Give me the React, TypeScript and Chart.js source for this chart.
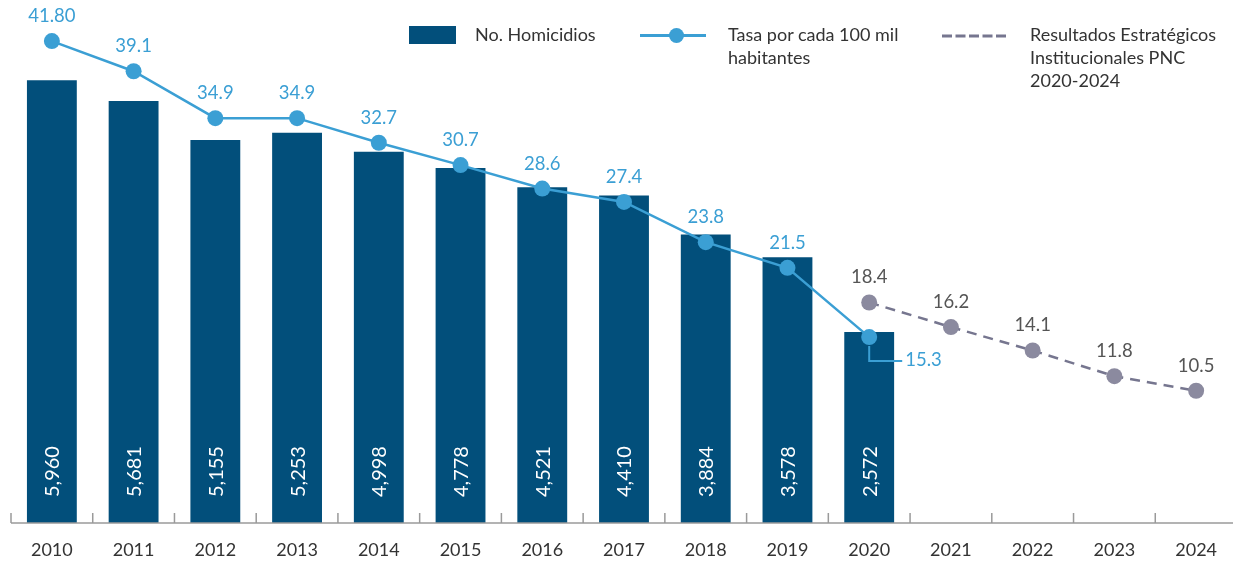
import React, { useEffect, useRef } from "react";
import { Chart, registerables } from "chart.js";

Chart.register(...registerables);

const years = ["2010","2011","2012","2013","2014","2015","2016","2017","2018","2019","2020","2021","2022","2023","2024"];
const homicides = [5960, 5681, 5155, 5253, 4998, 4778, 4521, 4410, 3884, 3578, 2572, null, null, null, null];
const homicideLabels = ["5,960","5,681","5,155","5,253","4,998","4,778","4,521","4,410","3,884","3,578","2,572"];
const rate = [41.8, 39.1, 34.9, 34.9, 32.7, 30.7, 28.6, 27.4, 23.8, 21.5, 15.3, null, null, null, null];
const rateLabels = ["41.80","39.1","34.9","34.9","32.7","30.7","28.6","27.4","23.8","21.5","15.3"];
const projection = [null, null, null, null, null, null, null, null, null, null, 18.4, 16.2, 14.1, 11.8, 10.5];
const projectionLabels = ["", "", "", "", "", "", "", "", "", "", "18.4", "16.2", "14.1", "11.8", "10.5"];
const calloutIndex = 10;

const BAR = "#024f7b";
const BLUE = "#3b9fd4";
const GRAY = "#8b8a9f";
const GRAY_LINE = "#76768f";
const TEXT = "#333333";
const FONT = "Lato, 'Noto Sans', sans-serif";

const labelPlugin = {
  id: "labels",
  afterDatasetsDraw(chart: any) {
    const ctx = chart.ctx;
    const area = chart.chartArea;
    const xs = chart.scales.x;
    // axis line and boundary ticks
    ctx.save();
    ctx.strokeStyle = "#9a9a9a";
    ctx.lineWidth = 1.5;
    ctx.beginPath();
    ctx.moveTo(area.left, area.bottom);
    ctx.lineTo(area.right, area.bottom);
    const step = xs.getPixelForValue(1) - xs.getPixelForValue(0);
    for (let i = 0; i <= years.length; i++) {
      const bx = xs.getPixelForValue(0) - step / 2 + i * step;
      ctx.moveTo(bx, area.bottom);
      ctx.lineTo(bx, area.bottom - 10);
    }
    ctx.stroke();
    ctx.restore();

    // bar labels
    const barMeta = chart.getDatasetMeta(0);
    ctx.save();
    ctx.fillStyle = "#ffffff";
    ctx.font = `20px ${FONT}`;
    ctx.textAlign = "left";
    ctx.textBaseline = "middle";
    barMeta.data.forEach((el: any, i: number) => {
      if (homicides[i] == null) return;
      ctx.save();
      ctx.translate(el.x + 1, area.bottom - 26);
      ctx.rotate(-Math.PI / 2);
      ctx.fillText(homicideLabels[i], 0, 0);
      ctx.restore();
    });
    ctx.restore();

    // rate labels
    const rateMeta = chart.getDatasetMeta(1);
    ctx.save();
    ctx.font = `18.5px ${FONT}`;
    ctx.fillStyle = BLUE;
    ctx.textBaseline = "middle";
    rateMeta.data.forEach((el: any, i: number) => {
      if (rate[i] == null) return;
      if (i === calloutIndex) {
        ctx.strokeStyle = BLUE;
        ctx.lineWidth = 2;
        ctx.beginPath();
        ctx.moveTo(el.x, el.y + 9);
        ctx.lineTo(el.x, el.y + 24);
        ctx.lineTo(el.x + 33, el.y + 24);
        ctx.stroke();
        ctx.textAlign = "left";
        ctx.fillText(rateLabels[i], el.x + 36, el.y + 23);
      } else {
        ctx.textAlign = "center";
        ctx.fillText(rateLabels[i], el.x, el.y - 25);
      }
    });
    ctx.restore();

    // projection labels
    const projMeta = chart.getDatasetMeta(2);
    ctx.save();
    ctx.font = `18.5px ${FONT}`;
    ctx.fillStyle = "#555555";
    ctx.textAlign = "center";
    ctx.textBaseline = "middle";
    projMeta.data.forEach((el: any, i: number) => {
      if (projection[i] == null) return;
      ctx.fillText(projectionLabels[i], el.x, el.y - 25);
    });
    ctx.restore();
  },
};

export default function App() {
  const ref = useRef<HTMLCanvasElement | null>(null);

  useEffect(() => {
    if (!ref.current) return;
    const chart = new Chart(ref.current, {
      type: "bar",
      data: {
        labels: years,
        datasets: [
          {
            type: "bar",
            label: "No. Homicidios",
            data: homicides,
            backgroundColor: BAR,
            yAxisID: "y",
            order: 3,
            barPercentage: 0.61,
            categoryPercentage: 1,
          },
          {
            type: "line",
            label: "Tasa por cada 100 mil habitantes",
            data: rate,
            borderColor: BLUE,
            backgroundColor: BLUE,
            borderWidth: 2.5,
            pointRadius: 8,
            pointBackgroundColor: BLUE,
            pointBorderWidth: 0,
            yAxisID: "y2",
            order: 1,
          },
          {
            type: "line",
            label: "Resultados Estratégicos Institucionales PNC 2020-2024",
            data: projection,
            borderColor: GRAY_LINE,
            backgroundColor: GRAY,
            borderWidth: 2.5,
            borderDash: [10, 7],
            pointRadius: 8,
            pointBackgroundColor: GRAY,
            pointBorderWidth: 0,
            yAxisID: "y2",
            order: 2,
          },
        ] as any,
      },
      options: {
        responsive: false,
        animation: false,
        layout: { autoPadding: false, padding: { left: 11, top: 3, right: 0, bottom: 0 } },
        plugins: { legend: { display: false }, tooltip: { enabled: false } },
        scales: {
          x: {
            grid: { display: false, drawTicks: false },
            border: { display: false },
            ticks: { color: TEXT, font: { family: FONT, size: 18 }, padding: 16 },
            afterFit: (s: any) => { s.height = 38; },
          },
          y: { display: false, min: 0, max: 7000 },
          y2: { display: false, min: -1.34, max: 45.21 },
        },
      } as any,
      plugins: [labelPlugin],
    });
    return () => chart.destroy();
  }, []);

  const legendText: React.CSSProperties = {
    position: "absolute",
    fontFamily: FONT,
    fontSize: 18,
    lineHeight: "23px",
    color: TEXT,
    whiteSpace: "nowrap",
  };

  return (
    <div style={{ position: "absolute", left: 0, top: 0, width: 1233, height: 561, overflow: "hidden", background: "#fff" }}>
      <canvas ref={ref} width={1237} height={561} style={{ display: "block" }} />
      <div style={{ position: "absolute", left: 409, top: 26, width: 47, height: 18, background: BAR }} />
      <div style={{ ...legendText, left: 475, top: 23 }}>No. Homicidios</div>
      <div style={{ position: "absolute", left: 640, top: 34, width: 66, height: 3, background: BLUE }} />
      <div style={{ position: "absolute", left: 669, top: 28, width: 15, height: 15, borderRadius: "50%", background: BLUE }} />
      <div style={{ ...legendText, left: 728, top: 23 }}>Tasa por cada 100 mil<br />habitantes</div>
      <svg style={{ position: "absolute", left: 942, top: 33 }} width={66} height={6}>
        <line x1={0} y1={3} x2={64} y2={3} stroke={GRAY_LINE} strokeWidth={3} strokeDasharray="10 3.5" />
      </svg>
      <div style={{ ...legendText, left: 1030, top: 23 }}>Resultados Estratégicos<br />Institucionales PNC<br />2020-2024</div>
    </div>
  );
}
